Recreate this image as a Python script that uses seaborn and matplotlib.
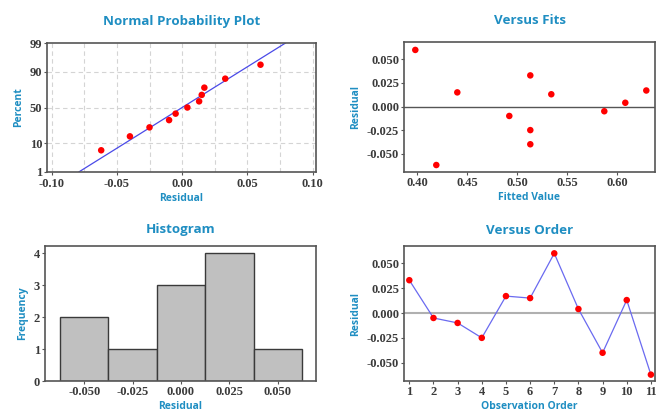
import numpy as np
import pandas as pd
import matplotlib
matplotlib.use("Agg")
import matplotlib.pyplot as plt
import seaborn as sns
from statistics import NormalDist

# ---- data ----
observation_order = [1, 2, 3, 4, 5, 6, 7, 8, 9, 10, 11]
residuals = [0.033, -0.005, -0.010, -0.025, 0.017, 0.015, 0.060, 0.004, -0.040, 0.013, -0.062]
fitted_values = [0.513, 0.587, 0.492, 0.513, 0.629, 0.440, 0.398, 0.608, 0.513, 0.534, 0.419]
hist_bin_edges = [-0.0625, -0.0375, -0.0125, 0.0125, 0.0375, 0.0625]
percent_ticks = [1, 10, 50, 90, 99]

sns.set_theme(style="white")
plt.rcParams["font.family"] = ["Liberation Serif", "DejaVu Serif"]
SANS = ["Open Sans", "DejaVu Sans"]

TITLE_C = "#1f8ec2"
TICK_C = "#3a3a3a"
SPINE_C = "#555555"
RED = "#ff0000"
BLUE = "#4a4ae8"

nd = NormalDist()
df = pd.DataFrame({"order": observation_order, "resid": residuals, "fit": fitted_values})

fig = plt.figure(figsize=(6.56, 4.13), dpi=100)
W, H = 656, 413


def add_ax(l, t, r, b):
    return fig.add_axes([l / W, 1 - b / H, (r - l) / W, (b - t) / H])


def style(ax, title, xlabel, ylabel, title_pad):
    ax.set_title(title, color=TITLE_C, fontsize=9.6, fontweight="bold", pad=title_pad, family=SANS)
    ax.set_xlabel(xlabel, color=TITLE_C, fontsize=7.5, fontweight="bold", labelpad=2, family=SANS)
    ax.set_ylabel(ylabel, color=TITLE_C, fontsize=7.5, fontweight="bold", labelpad=4, family=SANS)
    for s in ax.spines.values():
        s.set_color(SPINE_C)
        s.set_linewidth(1.2)
    ax.tick_params(axis="both", which="both", direction="out", length=2.5, width=0.8,
                   color=SPINE_C, labelcolor=TICK_C, labelsize=9.0, pad=1,
                   bottom=True, left=True)
    for lab in ax.get_xticklabels() + ax.get_yticklabels():
        lab.set_fontweight("bold")


# ---- Normal probability plot ----
ax1 = add_ax(47, 43, 316, 172)
n = len(residuals)
sorted_res = np.sort(residuals)
pp = [(i - 0.3) / (n + 0.4) for i in range(1, n + 1)]
zq = [nd.inv_cdf(p) for p in pp]
mu = float(np.mean(residuals))
sd = float(np.std(residuals, ddof=1))
z_lo, z_hi = nd.inv_cdf(0.01), nd.inv_cdf(0.99)
line_df = pd.DataFrame({"x": [mu + sd * z_lo, mu + sd * z_hi], "z": [z_lo, z_hi]})
sns.lineplot(data=line_df, x="x", y="z", ax=ax1, color=BLUE, linewidth=0.9)
sns.scatterplot(x=sorted_res, y=zq, ax=ax1, color=RED, s=22, edgecolor="none", zorder=5)
ax1.set_xlim(-0.1035, 0.1025)
ax1.set_ylim(z_lo, z_hi)
ax1.set_xticks([-0.1, -0.05, 0.0, 0.05, 0.1])
ax1.set_xticks([-0.075, -0.025, 0.025, 0.075], minor=True)
ax1.set_xticklabels(["-0.10", "-0.05", "0.00", "0.05", "0.10"])
ax1.set_yticks([nd.inv_cdf(p / 100) for p in percent_ticks])
ax1.set_yticklabels([str(p) for p in percent_ticks])
for xv in [-0.1, -0.075, -0.05, -0.025, 0.0, 0.025, 0.05, 0.075, 0.1]:
    ax1.axvline(xv, color="#d4d4d4", linestyle=(0, (4, 3)), linewidth=0.8, zorder=0)
for p in [10, 50, 90]:
    ax1.axhline(nd.inv_cdf(p / 100), color="#d4d4d4", linestyle=(0, (4, 3)), linewidth=0.8, zorder=0)
style(ax1, "Normal Probability Plot", "Residual", "Percent", 13)
ax1.tick_params(axis="x", which="minor", length=0)
ax1.tick_params(axis="x", which="major", pad=2)

# ---- Versus Fits ----
ax2 = add_ax(404, 42, 655, 172)
ax2.axhline(0, color="#555555", linewidth=1.0, zorder=1)
sns.scatterplot(data=df, x="fit", y="resid", ax=ax2, color=RED, s=22, edgecolor="none", zorder=5)
ax2.set_xlim(0.3867, 0.6377)
ax2.set_ylim(-0.0694, 0.0684)
ax2.set_xticks([0.40, 0.45, 0.50, 0.55, 0.60])
ax2.set_xticklabels(["0.40", "0.45", "0.50", "0.55", "0.60"])
ax2.set_yticks([-0.05, -0.025, 0.0, 0.025, 0.05])
ax2.set_yticklabels(["-0.050", "-0.025", "0.000", "0.025", "0.050"])
style(ax2, "Versus Fits", "Fitted Value", "Residual", 13)

# ---- Histogram ----
ax3 = add_ax(45, 246, 316, 381)
sns.histplot(x=residuals, bins=hist_bin_edges, ax=ax3, color="#c0c0c0", alpha=1,
             edgecolor="#3a3a3a", linewidth=1.0)
ax3.set_xlim(-0.0703, 0.0698)
ax3.set_ylim(0, 4.23)
ax3.set_xticks([-0.05, -0.025, 0.0, 0.025, 0.05])
ax3.set_xticklabels(["-0.050", "-0.025", "0.000", "0.025", "0.050"])
ax3.set_yticks([0, 1, 2, 3, 4])
ax3.set_yticklabels(["0", "1", "2", "3", "4"])
style(ax3, "Histogram", "Residual", "Frequency", 9)

# ---- Versus Order ----
ax4 = add_ax(404, 246, 655, 381)
ax4.axhline(0, color="#b0b0b0", linewidth=1.5, zorder=1)
sns.lineplot(data=df, x="order", y="resid", ax=ax4, color="#6a6af0", linewidth=0.9, zorder=3)
sns.scatterplot(data=df, x="order", y="resid", ax=ax4, color=RED, s=22, edgecolor="none", zorder=5)
ax4.set_xlim(0.78, 11.17)
ax4.set_ylim(-0.0684, 0.0674)
ax4.set_xticks(observation_order)
ax4.set_xticklabels([str(o) for o in observation_order])
ax4.set_yticks([-0.05, -0.025, 0.0, 0.025, 0.05])
ax4.set_yticklabels(["-0.050", "-0.025", "0.000", "0.025", "0.050"])
style(ax4, "Versus Order", "Observation Order", "Residual", 9)

fig.savefig("out.png", dpi=100)
